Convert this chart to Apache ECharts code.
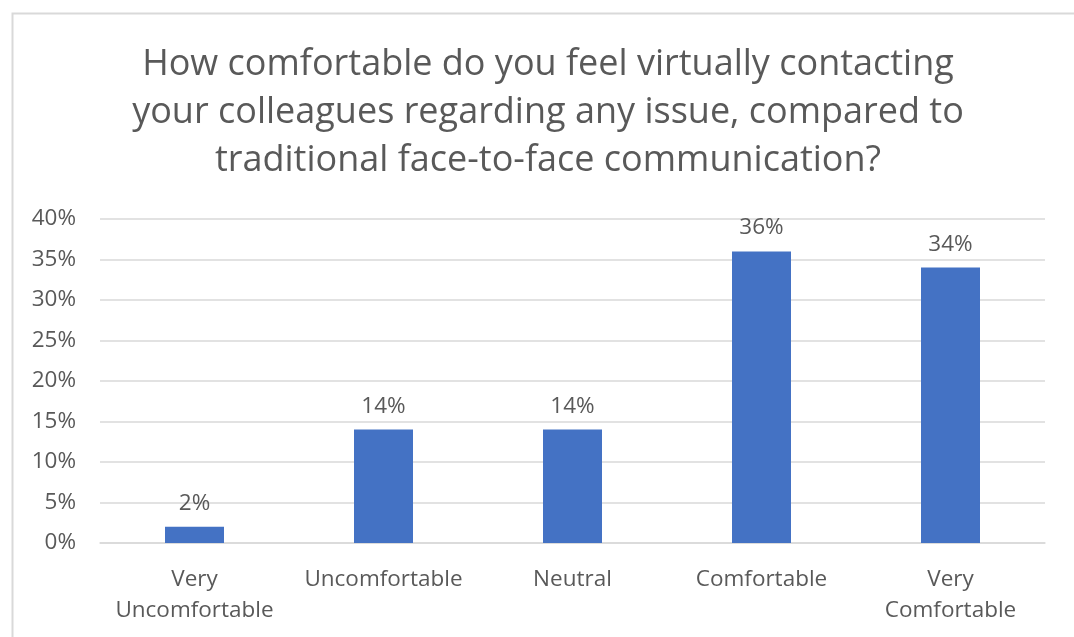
<!DOCTYPE html>
<html>
<head>
<meta charset="utf-8">
<script src="https://cdn.jsdelivr.net/npm/echarts@6/dist/echarts.min.js"></script>
<style>
html,body{margin:0;padding:0;background:#fff;}
#c{width:1074px;height:637px;}
</style>
</head>
<body>
<div id="c"></div>
<script>
const categories = ["Very\nUncomfortable", "Uncomfortable", "Neutral", "Comfortable", "Very\nComfortable"];
const values = [2, 14, 14, 36, 34];
const yTicks = [0, 5, 10, 15, 20, 25, 30, 35, 40];
const titleText = "How comfortable do you feel virtually contacting\nyour colleagues regarding any issue, compared to\ntraditional face-to-face communication?";

const font = "'Open Sans', sans-serif";
const chart = echarts.init(document.getElementById('c'), null, {renderer: 'canvas'});
chart.setOption({
  animation: false,
  backgroundColor: '#fff',
  graphic: [{
    type: 'rect', left: 10, top: 11,
    shape: {width: 1100, height: 700},
    style: {fill: 'none', stroke: '#d9d9d9', lineWidth: 2}
  }],
  title: {
    text: titleText,
    left: 543, top: 36, textAlign: 'center',
    textStyle: {fontFamily: font, fontSize: 36, fontWeight: 'normal', color: '#595959', lineHeight: 48}
  },
  grid: {left: 100, right: 29, top: 219, bottom: 94},
  xAxis: {
    type: 'category', data: categories,
    axisLine: {lineStyle: {color: '#d9d9d9', width: 1.5}},
    axisTick: {show: false},
    axisLabel: {fontFamily: font, fontSize: 22.5, color: '#595959', margin: 21, lineHeight: 31, interval: 0}
  },
  yAxis: {
    type: 'value', min: yTicks[0], max: yTicks[yTicks.length - 1], interval: 5,
    axisLine: {show: false}, axisTick: {show: false},
    splitLine: {lineStyle: {color: '#d9d9d9', width: 1.5}},
    axisLabel: {fontFamily: font, fontSize: 22.5, color: '#595959', margin: 24, formatter: v => v + '%'}
  },
  series: [{
    type: 'bar', data: values, barWidth: 59,
    itemStyle: {color: '#4472c4'},
    label: {show: true, position: 'top', distance: 12, fontFamily: font, fontSize: 22.5, color: '#595959', formatter: p => p.value + '%'}
  }]
});
</script>
</body>
</html>
